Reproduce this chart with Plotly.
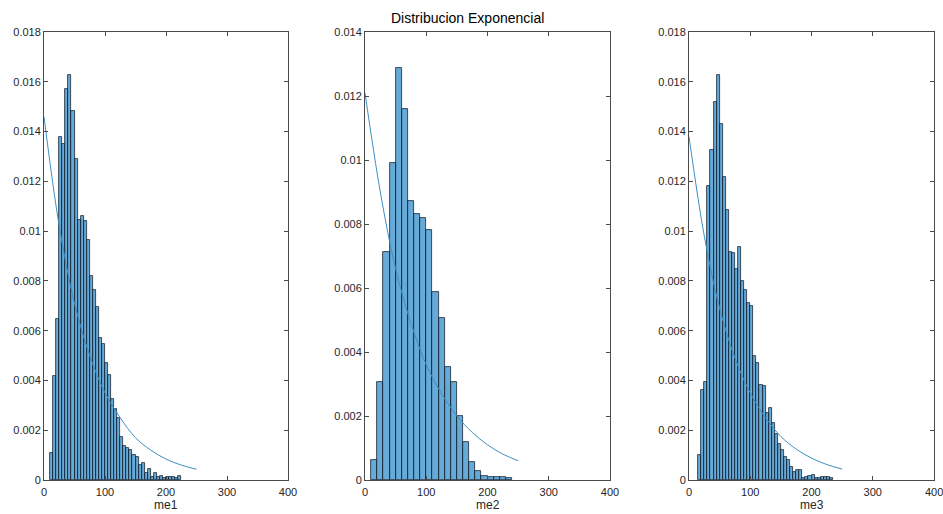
import plotly.graph_objects as go

# ---------------- data ----------------
# Panel 1 (me1): histogram, pdf-normalised, bin width 5 starting at 10
me1_bin_start = 10
me1_bin_width = 5
me1_density = [0.00108, 0.00416, 0.00646, 0.01380, 0.01352, 0.01573, 0.01628, 0.01484,
               0.01290, 0.01044, 0.01060, 0.01040, 0.00964, 0.00820, 0.00763, 0.00696,
               0.00569, 0.00545, 0.00470, 0.00422, 0.00324, 0.00286, 0.00248, 0.00174,
               0.00135, 0.00128, 0.00120, 0.00100, 0.00091, 0.00062, 0.00067, 0.00027,
               0.00045, 0.00013, 0.00027, 0.00011, 0.00016, 0.00008, 0.00013, 0.00013,
               0.00011, 0.00008, 0.00016]

# Panel 2 (me2): bin width 10 starting at 10
me2_bin_start = 10
me2_bin_width = 10
me2_density = [0.00062, 0.00306, 0.00712, 0.00992, 0.01286, 0.01158, 0.00873, 0.00831,
               0.00818, 0.00782, 0.00587, 0.00507, 0.00352, 0.00307, 0.00200, 0.00119,
               0.00056, 0.00028, 0.00013, 0.00010, 0.00008, 0.00008, 0.00006]

# Panel 3 (me3): bin width 5 starting at 15
me3_bin_start = 15
me3_bin_width = 5
me3_density = [0.00102, 0.00362, 0.00392, 0.01183, 0.01327, 0.01518, 0.01629, 0.01431,
               0.01216, 0.01083, 0.00915, 0.00911, 0.00849, 0.00935, 0.00800, 0.00765,
               0.00710, 0.00699, 0.00498, 0.00471, 0.00382, 0.00378, 0.00270, 0.00288,
               0.00228, 0.00185, 0.00145, 0.00120, 0.00094, 0.00080, 0.00052, 0.00031,
               0.00042, 0.00040, 0.00010, 0.00012, 0.00016, 0.00022, 0.00010, 0.00008,
               0.00012, 0.00012, 0.00012, 0.00008]

# Fitted exponential curves at these x positions
curve_x = [0, 25, 50, 75, 100, 125, 150, 175, 200, 225, 250]
me1_curve = [0.0146, 0.0102, 0.0071, 0.0050, 0.0035, 0.0025, 0.0017, 0.0012, 0.00084, 0.00060, 0.00043]
me2_curve = [0.0121, 0.0090, 0.0066, 0.0049, 0.0036, 0.0027, 0.0020, 0.00149, 0.00110, 0.00081, 0.00060]
me3_curve = [0.0138, 0.0098, 0.0069, 0.0049, 0.0035, 0.0025, 0.00175, 0.00124, 0.00088, 0.00062, 0.00044]

x_ticks = [0, 100, 200, 300, 400]
x_labels = ["0", "100", "200", "300", "400"]
y_ticks_a = [0, 0.002, 0.004, 0.006, 0.008, 0.01, 0.012, 0.014, 0.016, 0.018]
y_ticks_b = [0, 0.002, 0.004, 0.006, 0.008, 0.01, 0.012, 0.014]
y_labels_a = ["0", "0.002", "0.004", "0.006", "0.008", "0.01", "0.012", "0.014", "0.016", "0.018"]
y_labels_b = ["0", "0.002", "0.004", "0.006", "0.008", "0.01", "0.012", "0.014"]

title_text = "Distribucion Exponencial"
x_titles = ["me1", "me2", "me3"]

# ---------------- figure ----------------
W, H = 943, 514
ML, MR, MT, MB = 44, 9, 32, 34
PW = W - ML - MR
PH = H - MT - MB

def dom(a, b):
    return [(a - ML) / PW, (b - ML) / PW]

domains = [dom(44, 288), dom(365, 610), dom(689, 934)]

BAR_COLOR = "rgba(0,114,189,0.6)"
EDGE = "#1c2633"
LINE = "#3d8fc2"
AX = "#4a4a4a"
TXT = "#262626"
FONT = "Liberation Sans, Arial, sans-serif"

fig = go.Figure()

panels = [
    (me1_bin_start, me1_bin_width, me1_density, me1_curve, y_ticks_a, y_labels_a, 0.018),
    (me2_bin_start, me2_bin_width, me2_density, me2_curve, y_ticks_b, y_labels_b, 0.014),
    (me3_bin_start, me3_bin_width, me3_density, me3_curve, y_ticks_a, y_labels_a, 0.018),
]

for i, (b0, bw, dens, curve, yt, yl, ymax) in enumerate(panels):
    n = i + 1
    xa = "x" if n == 1 else f"x{n}"
    ya = "y" if n == 1 else f"y{n}"
    lefts = [b0 + bw * k for k in range(len(dens))]
    fig.add_trace(go.Bar(
        x=lefts, y=dens, width=bw, offset=0,
        marker=dict(color=BAR_COLOR, line=dict(color=EDGE, width=0.8)),
        xaxis=xa, yaxis=ya, showlegend=False, hoverinfo="skip"))
    fig.add_trace(go.Scatter(
        x=curve_x, y=curve, mode="lines",
        line=dict(color=LINE, width=1, shape="spline"),
        xaxis=xa, yaxis=ya, showlegend=False, hoverinfo="skip"))

    axis_common = dict(
        showline=True, linecolor=AX, linewidth=1, mirror="ticks",
        ticks="inside", ticklen=4, tickcolor=AX, tickwidth=1,
        showgrid=False, zeroline=False, automargin=False,
        tickfont=dict(family=FONT, size=11, color=TXT),
    )
    xt_text = list(x_labels)
    if n == 3:
        xt_text[-1] = ""  # drawn below as an annotation so it can run off the page edge
    fig.update_layout(**{
        ("xaxis" if n == 1 else f"xaxis{n}"): dict(
            domain=domains[i], range=[0, 400], tickvals=x_ticks, ticktext=xt_text,
            anchor=ya, ticklabelstandoff=2, **axis_common),
        ("yaxis" if n == 1 else f"yaxis{n}"): dict(
            domain=[0, 1], range=[0, ymax], tickvals=yt, ticktext=yl,
            anchor=xa, **axis_common),
    })
    d0, d1 = domains[i]
    fig.add_annotation(
        text=x_titles[i], xref="paper", yref="paper",
        x=(d0 + d1) / 2, y=0, yshift=-25, xanchor="center", yanchor="middle",
        showarrow=False, font=dict(family=FONT, size=12, color=TXT))

fig.add_annotation(
    text=x_labels[-1], xref="x3", yref="paper", x=x_ticks[-1], y=0, yshift=-12,
    xanchor="center", yanchor="middle", showarrow=False,
    font=dict(family=FONT, size=11, color=TXT))

fig.add_annotation(
    text=title_text, xref="paper", yref="paper",
    x=(467 - ML) / PW, y=1, yshift=14, xanchor="center", yanchor="middle",
    showarrow=False, font=dict(family=FONT, size=14, color="#000000"))

fig.update_layout(
    width=W, height=H, margin=dict(l=ML, r=MR, t=MT, b=MB),
    paper_bgcolor="white", plot_bgcolor="white",
    bargap=0, barmode="overlay",
)

fig.write_html(
    "out.html",
    config={"displayModeBar": False},
    post_script="document.body.style.margin='0';document.body.style.overflow='hidden';",
)
